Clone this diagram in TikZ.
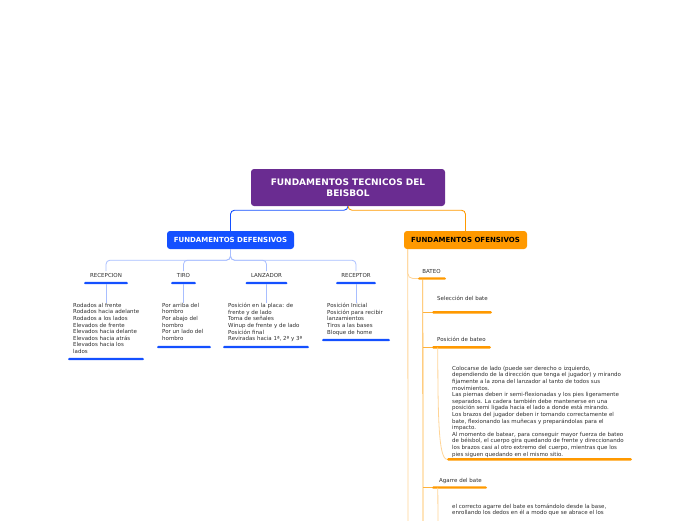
\documentclass[tikz,border=0pt]{standalone}
\usepackage{fontspec}
\setmainfont{DejaVu Sans}
\usetikzlibrary{calc}
\definecolor{titlepurple}{RGB}{106,44,145}
\definecolor{defblue}{RGB}{20,80,255}
\definecolor{ofeorange}{RGB}{255,153,0}
\definecolor{lightblue}{RGB}{168,190,255}
\definecolor{midorange}{RGB}{255,178,60}
\definecolor{lightorange}{RGB}{255,212,150}
\definecolor{txtgray}{RGB}{45,45,45}
\begin{document}
\begin{tikzpicture}[x=1pt, y=-1pt, every node/.style={font=\fontsize{5.5}{6.6}\selectfont, text=txtgray}]
\tikzset{mainbox/.style={rectangle, rounded corners=3pt, fill=#1, inner sep=0, align=center, font=\fontsize{7}{8.5}\selectfont\bfseries},
  bar/.style={rectangle, fill=#1, inner sep=0, minimum height=2.4pt, rounded corners=1.2pt},
  lbl/.style={anchor=base, inner sep=2pt},
  txt/.style={anchor=north west, align=left, inner sep=0},
  bline/.style={draw=lightblue, line width=0.8pt, rounded corners=4pt},
  oline/.style={draw=#1, line width=0.8pt, rounded corners=5pt}}
\useasboundingbox (0,0) rectangle (696,520);
% main topics
\node[mainbox=titlepurple, minimum width=194pt, minimum height=37pt, text=white, font=\fontsize{9}{11}\selectfont\bfseries] (title) at (348,187.5) {FUNDAMENTOS TECNICOS DEL\\BEISBOL};
\node[mainbox=defblue, minimum width=127pt, minimum height=18pt, text=white] (def) at (230.5,240) {FUNDAMENTOS DEFENSIVOS};
\node[mainbox=ofeorange, minimum width=123pt, minimum height=18pt, text=black] (ofe) at (465.5,240) {FUNDAMENTOS OFENSIVOS};
\draw[defblue, line width=0.9pt, rounded corners=4pt] (title.south) -- ++(0,4) -| (def.north);
\draw[ofeorange, line width=0.9pt, rounded corners=4pt] (title.south) -- ++(0,4) -| (ofe.north);
% defensivos: labels and bars
\node[lbl] (recL) at (106,277.5) {RECEPCION};
\node[lbl] (tiroL) at (183.5,277.5) {TIRO};
\node[lbl] (lanL) at (266.5,277.5) {LANZADOR};
\node[lbl] (recpL) at (356,277.5) {RECEPTOR};
\node[bar=defblue, minimum width=44pt] (recB) at (106,283) {};
\node[bar=defblue, minimum width=25pt] (tiroB) at (183.5,283) {};
\node[bar=defblue, minimum width=42pt] (lanB) at (266.5,283) {};
\node[bar=defblue, minimum width=40pt] (recpB) at (356,283) {};
\draw[bline] (def.south) -- ++(0,11) -| (recL.north);
\draw[bline] (def.south) -- ++(0,11) -| (tiroL.north);
\draw[bline] (def.south) -- ++(0,11) -| (lanL.north);
\draw[bline] (def.south) -- ++(0,11) -| (recpL.north);
% defensivos: texts
\node[txt] (recT) at (73,303) {Rodados al frente\\Rodados hacia adelante\\Rodados a los lados\\Elevados de frente\\Elevados hacia delante\\Elevados hacia atrás\\Elevados hacia los\\lados};
\node[txt] (tiroT) at (162,303) {Por arriba del\\hombro\\Por abajo del\\hombro\\Por un lado del\\hombro};
\node[txt] (lanT) at (228,303) {Posición en la placa: de\\frente y de lado\\Toma de señales\\Winup de frente y de lado\\Posición final\\Reviradas hacia 1ª, 2ª y 3ª};
\node[txt] (recpT) at (327,303) {Posición Inicial\\Posición para recibir\\lanzamientos\\Tiros a las bases\\Bloque de home};
\node[bar=defblue, minimum width=76pt] (recTB) at (106,359) {};
\node[bar=defblue, minimum width=54pt] (tiroTB) at (184,347) {};
\node[bar=defblue, minimum width=86pt] (lanTB) at (266,347) {};
\node[bar=defblue, minimum width=68pt] (recpTB) at (356,340) {};
\draw[bline] (recB) -- (recB |- recT.north);
\draw[bline] (tiroB) -- (tiroB |- tiroT.north);
\draw[bline] (lanB) -- (lanB |- lanT.north);
\draw[bline] (recpB) -- (recpB |- recpT.north);
% ofensivos
\coordinate (ofeEnd) at (408,522);
\coordinate (bateoEnd) at (423,522);
\coordinate (agEnd) at (438,522);
\node[lbl] (bateoL) at (431.5,273.5) {BATEO};
\node[bar=ofeorange, minimum width=28pt] (bateoB) at (432,278.5) {};
\node[lbl, anchor=base west, inner sep=0] (selL) at (437,300.5) {Selección del bate};
\node[bar=ofeorange, minimum width=60pt] (selB) at (462,312.3) {};
\node[lbl, anchor=base west, inner sep=0] (posL) at (437,341.5) {Posición de bateo};
\node[bar=ofeorange, minimum width=59pt] (posB) at (461.5,347.3) {};
\node[txt] (posT) at (452,366) {Colocarse de lado (puede ser derecho o izquierdo,\\dependiendo de la dirección que tenga el jugador) y mirando\\fijamente a la zona del lanzador al tanto de todos sus\\movimientos.\\Las piernas deben ir semi-flexionadas y los pies ligeramente\\separados. La cadera también debe mantenerse en una\\posición semi ligada hacia el lado a donde está mirando.\\Los brazos del jugador deben ir tomando correctamente el\\bate, flexionando las muñecas y preparándolas para el\\impacto.\\Al momento de batear, para conseguir mayor fuerza de bateo\\de béisbol, el cuerpo gira quedando de frente y direccionando\\los brazos casi al otro extremo del cuerpo, mientras que los\\pies siguen quedando en el mismo sitio.};
\node[bar=ofeorange, minimum width=185pt] (posTB) at (539.5,459.3) {};
\node[lbl, anchor=base west, inner sep=0] (agL) at (439,482.3) {Agarre del bate};
\node[bar=ofeorange, minimum width=55pt] (agB) at (459.5,487.5) {};
\node[txt] (agT) at (452,503.5) {el correcto agarre del bate es tomándolo desde la base,\\enrollando los dedos en él a modo que se abrace el los};
\draw[oline=lightorange] ([xshift=4pt]ofe.south west) -- (ofeEnd);
\draw[oline=lightorange] ([xshift=4pt]ofe.south west) |- (bateoB.west);
\draw[oline=midorange] ([xshift=5pt]bateoB.west) -- (bateoEnd);
\draw[oline=midorange] (selB.west -| bateoEnd) -- (selB.west);
\draw[oline=midorange] (posB.west -| bateoEnd) -- (posB.west);
\draw[oline=midorange] (agB.west -| bateoEnd) -- (agB.west);
\draw[oline=lightorange] ([xshift=6pt]posB.west) .. controls ($(posTB.west)+(-9,-40)$) and ($(posTB.west)+(-8,-1)$) .. (posTB.west);
\draw[oline=lightorange] ([xshift=6pt]agB.west) -- (agEnd);
\end{tikzpicture}
\end{document}
